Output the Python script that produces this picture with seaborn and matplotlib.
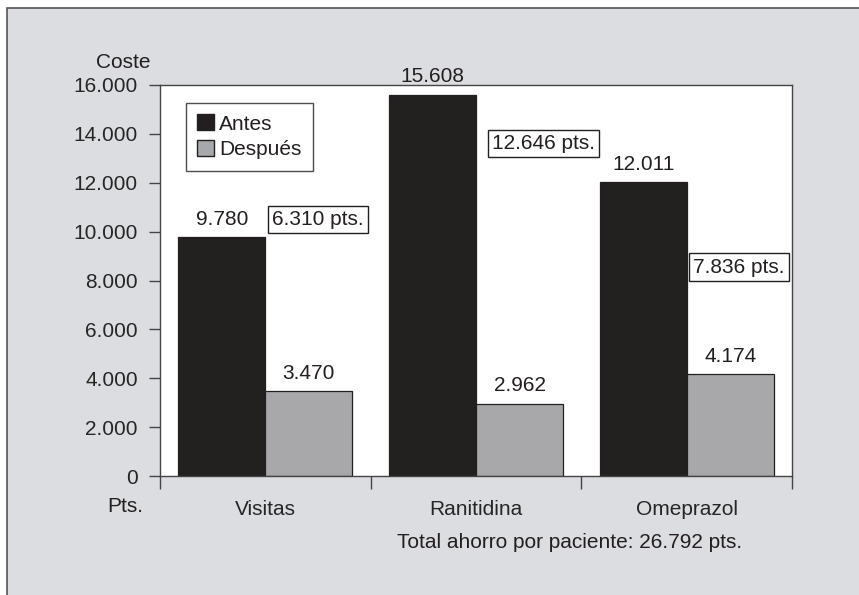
import pandas as pd
import matplotlib
matplotlib.use("Agg")
import matplotlib.pyplot as plt
import seaborn as sns
from matplotlib.patches import Rectangle, Patch

# Data
categorias = ["Visitas", "Ranitidina", "Omeprazol"]
antes = [9780, 15608, 12011]
despues = [3470, 2962, 4174]
ahorro = [6310, 12646, 7836]
total_ahorro = 26792
yticks = [0, 2000, 4000, 6000, 8000, 10000, 12000, 14000, 16000]

def miles(v):
    return f"{v:,}".replace(",", ".")

df = pd.DataFrame({
    "Categoria": categorias * 2,
    "Coste": antes + despues,
    "Periodo": ["Antes"] * 3 + ["Después"] * 3,
})

negro = "#231f20"
gris = "#a7a8ab"
fondo = "#dcdde0"

sns.set_style("white")
plt.rcParams["font.family"] = ["Liberation Sans", "DejaVu Sans"]
plt.rcParams["text.color"] = negro

fig = plt.figure(figsize=(8.59, 5.95), dpi=100, facecolor="white")
# grey panel behind the chart
fig.patches.append(Rectangle((7 / 859, -0.02), 1.05, 1 - 8 / 595 + 0.02,
                             transform=fig.transFigure, facecolor=fondo,
                             edgecolor="#555555", linewidth=1.2, zorder=-5))

ax = fig.add_axes([160 / 859, 1 - 476 / 595, 632 / 859, 391 / 595])
ax.set_facecolor("white")

sns.barplot(data=df, x="Categoria", y="Coste", hue="Periodo",
            palette=[negro, gris], width=0.826, gap=0,
            edgecolor=negro, linewidth=0.9, ax=ax, legend=False)

for cont, vals in zip(ax.containers, [antes, despues]):
    ax.bar_label(cont, labels=[miles(v) for v in vals], padding=6,
                 fontsize=15, color=negro)

# boxed savings, just right of each "Antes" bar
box_dx = [0.033, 0.077, 0.031]
box_y = [10500, 13600, 8550]
for i, v in enumerate(ahorro):
    ax.text(i + box_dx[i], box_y[i], f"{miles(v)} pts.", ha="left", va="center",
            fontsize=15, color=negro,
            bbox=dict(boxstyle="square,pad=0.2", fc="white", ec=negro, lw=1))

ax.set_xlim(-0.5, 2.5)
ax.set_ylim(0, 16000)
ax.set_yticks(yticks)
ax.set_yticklabels([miles(v) for v in yticks])
ax.tick_params(axis="y", direction="out", length=8, width=1, color="#444444",
               pad=8, labelsize=15, left=True)

ax.set_xticks([-0.5, 0.5, 1.5, 2.5])
ax.set_xticklabels([])
ax.tick_params(axis="x", which="major", direction="out", length=9, width=1,
               color="#444444", bottom=True)
ax.set_xticks([0, 1, 2], minor=True)
ax.set_xticklabels(categorias, minor=True)
ax.tick_params(axis="x", which="minor", length=0, pad=17, labelsize=15)

ax.set_xlabel("")
ax.set_ylabel("")
for s in ax.spines.values():
    s.set_visible(True)
    s.set_color("#444444")
    s.set_linewidth(1)

leg = ax.legend(handles=[Patch(facecolor=negro, edgecolor=negro, label="Antes"),
                         Patch(facecolor=gris, edgecolor=negro, label="Después")],
                loc="upper left", bbox_to_anchor=(0.041, 0.954), fontsize=15,
                frameon=True, fancybox=False, handlelength=0.8,
                handleheight=0.8, handletextpad=0.25, borderpad=0.55,
                labelspacing=0.3, borderaxespad=0)
leg.get_frame().set_edgecolor(negro)
leg.get_frame().set_linewidth(1)

fig.text(123 / 859, 1 - 62 / 595, "Coste", ha="center", va="center", fontsize=15)
fig.text(125 / 859, 1 - 506 / 595, "Pts.", ha="center", va="center", fontsize=15)
fig.text(570 / 859, 1 - 543 / 595,
         f"Total ahorro por paciente: {miles(total_ahorro)} pts.",
         ha="center", va="center", fontsize=15)

fig.savefig("out.png", dpi=100)
